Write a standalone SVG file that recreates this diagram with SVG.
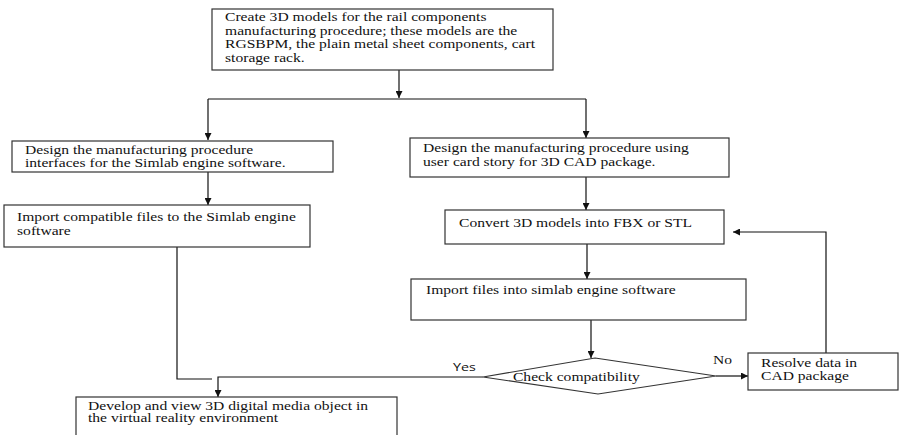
<svg xmlns="http://www.w3.org/2000/svg" width="900" height="435" viewBox="0 0 900 435">
<style>
.box{fill:#fff;stroke:#333;stroke-width:1.2}
.t{font-family:"Liberation Serif","Times New Roman",serif;font-size:12px;fill:#111}
.s{font-family:"Open Sans","Liberation Sans",sans-serif;font-size:11px;fill:#111}
.c{fill:none;stroke:#111;stroke-width:1.2}
</style>
<defs>
<marker id="ah" viewBox="0 0 10 10" refX="10" refY="5" markerWidth="7" markerHeight="7" markerUnits="userSpaceOnUse" orient="auto">
<path d="M0,0 L10,5 L0,10 Z" fill="#111"/>
</marker>
</defs>
<rect width="900" height="435" fill="#fff"/>
<g id="connectors">
<line class="c" x1="399" y1="70" x2="399" y2="98" marker-end="url(#ah)"/>
<line class="c" x1="208" y1="99" x2="586" y2="99"/>
<line class="c" x1="208" y1="99" x2="208" y2="140" marker-end="url(#ah)"/>
<line class="c" x1="586" y1="99" x2="586" y2="138" marker-end="url(#ah)"/>
<line class="c" x1="208" y1="172" x2="208" y2="205" marker-end="url(#ah)"/>
<line class="c" x1="586" y1="177" x2="586" y2="210" marker-end="url(#ah)"/>
<line class="c" x1="587" y1="244" x2="587" y2="279" marker-end="url(#ah)"/>
<line class="c" x1="591" y1="320" x2="591" y2="358" marker-end="url(#ah)"/>
<polyline class="c" points="177,247 177,379 212,379"/>
<polyline class="c" points="483,377 218,377 218,397" marker-end="url(#ah)"/>
<line class="c" x1="716" y1="376" x2="748" y2="376" marker-end="url(#ah)"/>
<polyline class="c" points="826,353 826,232 733,232" marker-end="url(#ah)"/>
<text class="s" transform="scale(1.3 1)" x="348.5" y="371">Yes</text>
<text class="t" transform="scale(1.3 1)" x="548.5" y="364">No</text>
</g>
<g id="n1">
<rect class="box" x="212" y="9" width="341" height="61"/>
<text class="t" transform="scale(1.3 1)" x="173.1" y="21.5">Create 3D models for the rail components</text>
<text class="t" transform="scale(1.3 1)" x="173.1" y="35">manufacturing procedure; these models are the</text>
<text class="t" transform="scale(1.3 1)" x="173.1" y="48.5">RGSBPM, the plain metal sheet components, cart</text>
<text class="t" transform="scale(1.3 1)" x="173.1" y="62">storage rack.</text>
</g>
<g id="n2">
<rect class="box" x="12" y="141" width="321" height="31"/>
<text class="t" transform="scale(1.3 1)" x="19.2" y="154">Design the manufacturing procedure</text>
<text class="t" transform="scale(1.3 1)" x="19.2" y="167">interfaces for the Simlab engine software.</text>
</g>
<g id="n3">
<rect class="box" x="4" y="205" width="306" height="42"/>
<text class="t" transform="scale(1.3 1)" x="13.1" y="221">Import compatible files to the Simlab engine</text>
<text class="t" transform="scale(1.3 1)" x="13.1" y="235">software</text>
</g>
<g id="n4">
<rect class="box" x="410" y="138" width="319" height="39"/>
<text class="t" transform="scale(1.3 1)" x="325.4" y="152">Design the manufacturing procedure using</text>
<text class="t" transform="scale(1.3 1)" x="325.4" y="166">user card story for 3D CAD package.</text>
</g>
<g id="n5">
<rect class="box" x="445" y="210" width="279" height="34"/>
<text class="t" transform="scale(1.3 1)" x="353.1" y="227">Convert 3D models into FBX or STL</text>
</g>
<g id="n6">
<rect class="box" x="411" y="279" width="335" height="41"/>
<text class="t" transform="scale(1.3 1)" x="327.7" y="294">Import files into simlab engine software</text>
</g>
<g id="n7">
<polygon class="box" points="595,358 716,376 598,394 483,377"/>
<text class="t" transform="scale(1.3 1)" x="394.6" y="381">Check compatibility</text>
</g>
<g id="n8">
<rect class="box" x="748" y="353" width="150" height="37"/>
<text class="t" transform="scale(1.3 1)" x="585.4" y="367">Resolve data in</text>
<text class="t" transform="scale(1.3 1)" x="585.4" y="380">CAD package</text>
</g>
<g id="n9">
<rect class="box" x="76" y="397" width="321" height="50"/>
<text class="t" transform="scale(1.3 1)" x="67.7" y="410">Develop and view 3D digital media object in</text>
<text class="t" transform="scale(1.3 1)" x="67.7" y="422">the virtual reality environment</text>
</g>
</svg>
